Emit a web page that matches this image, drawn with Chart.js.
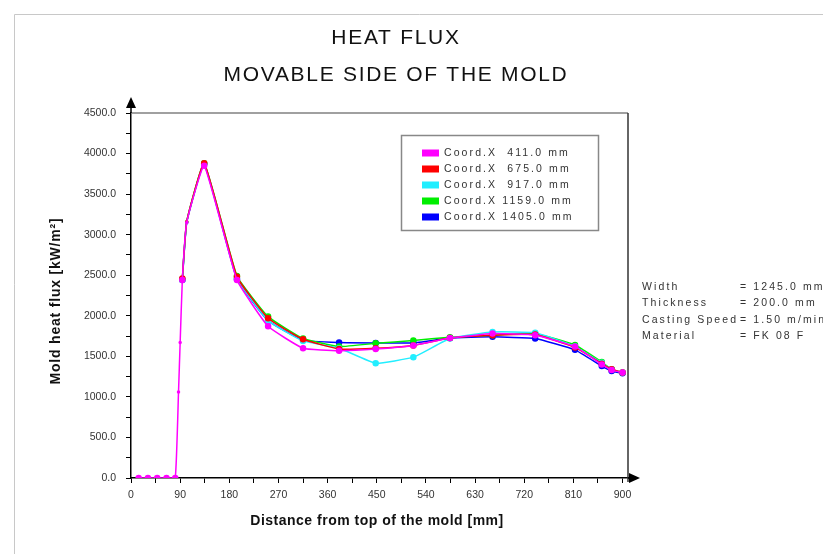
<!DOCTYPE html>
<html>
<head>
<meta charset="utf-8">
<script src="https://cdn.jsdelivr.net/npm/chart.js@4.4.1/dist/chart.umd.min.js"></script>
<style>
  html, body { margin: 0; padding: 0; background: #fff; }
  #wrap { width: 823px; height: 554px; }
</style>
</head>
<body>
<div id="wrap"><canvas id="grafico" width="823" height="554"></canvas></div>
<script>
// Distância do topo do molde [mm]
const distance = [94, 102, 134, 194, 251, 315, 381, 448, 517, 584, 662, 740, 813, 862, 880, 900];
// Trecho inicial (só a curva magenta aparece)
const leadDistance = [14, 31, 48, 65, 81, 87, 90];
const leadFlux = [0, 0, 0, 0, 0, 1060, 1670];

// Fluxo de calor [kW/m²] por coordenada X
const flux411 = [2440, 3150, 3850, 2440, 1870, 1600, 1570, 1590, 1635, 1725, 1780, 1760, 1620, 1400, 1330, 1300];
const flux675 = [2460, 3160, 3880, 2480, 1970, 1710, 1590, 1600, 1635, 1725, 1760, 1770, 1610, 1410, 1340, 1300];
const flux917 = [2440, 3150, 3870, 2460, 1940, 1690, 1600, 1415, 1490, 1720, 1800, 1790, 1620, 1420, 1340, 1300];
const flux1159 = [2450, 3160, 3880, 2490, 1990, 1720, 1620, 1660, 1695, 1735, 1760, 1780, 1640, 1430, 1340, 1300];
const flux1405 = [2440, 3150, 3870, 2450, 1940, 1700, 1670, 1665, 1665, 1725, 1740, 1720, 1580, 1380, 1320, 1290];

const seriesLabels = ['Coord.X  411.0 mm', 'Coord.X  675.0 mm', 'Coord.X  917.0 mm', 'Coord.X 1159.0 mm', 'Coord.X 1405.0 mm'];
const seriesColors = ['#ff00ff', '#ff0000', '#22eeff', '#00ee00', '#0000ff'];

const xTicks = [];
for (let v = 0; v <= 900; v += 45) xTicks.push(v);
const yTicks = [];
for (let v = 0; v <= 4500; v += 250) yTicks.push(v);

const infoNames = ['Width', 'Thickness', 'Casting Speed', 'Material'];
const infoValues = ['= 1245.0 mm', '= 200.0 mm', '= 1.50 m/min', '= FK 08 F'];

function pontos(xs, ys) {
    return xs.map((x, i) => ({ x: x, y: ys[i] }));
}

const magenta = pontos(leadDistance, leadFlux).concat(pontos(distance, flux411));
const todas = [magenta, pontos(distance, flux675), pontos(distance, flux917), pontos(distance, flux1159), pontos(distance, flux1405)];

// marcadores pequenos nos pontos de subida
function raio(d) {
    return d.map(p => (p.y > 0 && p.x < 94) || p.x === 102 ? 1 : 2.5);
}

const datasets = todas.map((d, i) => ({
    label: seriesLabels[i],
    data: d,
    borderColor: seriesColors[i],
    backgroundColor: seriesColors[i],
    borderWidth: 1.5,
    pointRadius: raio(d),
    pointHoverRadius: 2.5,
    tension: 0.12
}));

const FONT = '"Liberation Sans", Arial, sans-serif';

// Desenho dos textos, moldura e setas
const decoracao = {
    id: 'decoracao',
    beforeDraw(chart) {
        const ctx = chart.ctx;
        ctx.save();
        ctx.fillStyle = '#fff';
        ctx.fillRect(0, 0, chart.width, chart.height);
        ctx.restore();
    },
    afterDraw(chart) {
        const ctx = chart.ctx;
        const a = chart.chartArea;
        ctx.save();

        // moldura externa
        ctx.strokeStyle = '#c8c8c8';
        ctx.lineWidth = 1;
        ctx.beginPath();
        ctx.moveTo(14.5, 560);
        ctx.lineTo(14.5, 14.5);
        ctx.lineTo(830, 14.5);
        ctx.stroke();

        // moldura do gráfico
        ctx.strokeStyle = '#808080';
        ctx.lineWidth = 1.5;
        ctx.beginPath();
        ctx.moveTo(a.left, a.top);
        ctx.lineTo(a.right, a.top);
        ctx.stroke();
        ctx.strokeStyle = '#333';
        ctx.beginPath();
        ctx.moveTo(a.right, a.top);
        ctx.lineTo(a.right, a.bottom + 4);
        ctx.stroke();

        // setas dos eixos
        ctx.strokeStyle = '#000';
        ctx.fillStyle = '#000';
        ctx.lineWidth = 1.5;
        ctx.beginPath();
        ctx.moveTo(a.left, a.top);
        ctx.lineTo(a.left, a.top - 8);
        ctx.moveTo(a.right, a.bottom);
        ctx.lineTo(a.right + 4, a.bottom);
        ctx.stroke();
        ctx.beginPath();
        ctx.moveTo(a.left, a.top - 16);
        ctx.lineTo(a.left - 5, a.top - 5);
        ctx.lineTo(a.left + 5, a.top - 5);
        ctx.closePath();
        ctx.fill();
        ctx.beginPath();
        ctx.moveTo(a.right + 12, a.bottom);
        ctx.lineTo(a.right + 1, a.bottom - 5);
        ctx.lineTo(a.right + 1, a.bottom + 5);
        ctx.closePath();
        ctx.fill();

        // títulos
        ctx.fillStyle = '#111';
        ctx.textAlign = 'center';
        ctx.textBaseline = 'middle';
        ctx.font = '21px ' + FONT;
        ctx.letterSpacing = '1.7px';
        ctx.fillText('HEAT FLUX', 396, 38);
        ctx.fillText('MOVABLE SIDE OF THE MOLD', 396, 75);

        // títulos dos eixos
        ctx.font = 'bold 14px ' + FONT;
        ctx.letterSpacing = '0.5px';
        ctx.fillText('Distance from top of the mold [mm]', 377, 521);
        ctx.save();
        ctx.translate(56, 301);
        ctx.rotate(-Math.PI / 2);
        ctx.letterSpacing = '0.8px';
        ctx.fillText('Mold heat flux [kW/m²]', 0, 0);
        ctx.restore();

        // legenda
        ctx.strokeStyle = '#888';
        ctx.lineWidth = 1.5;
        ctx.strokeRect(401.5, 135.5, 197, 95);
        ctx.font = '10.5px ' + FONT;
        ctx.letterSpacing = '2.1px';
        ctx.textAlign = 'left';
        const linhas = [153, 169, 185, 201, 217];
        seriesLabels.forEach((txt, i) => {
            ctx.fillStyle = seriesColors[i];
            ctx.fillRect(422, linhas[i] - 3.5, 17, 7);
            ctx.fillStyle = '#333';
            ctx.fillText(txt, 444, linhas[i]);
        });

        // informações laterais
        const info = [287, 303, 320, 336];
        infoNames.forEach((txt, i) => {
            ctx.fillStyle = '#333';
            ctx.fillText(txt, 642, info[i]);
            ctx.fillText(infoValues[i], 740, info[i]);
        });

        ctx.restore();
    }
};

const ctx = document.getElementById('grafico').getContext('2d');

new Chart(ctx, {
    type: 'line',
    data: { datasets: datasets },
    options: {
        responsive: false,
        animation: false,
        events: [],
        layout: { padding: { left: 0, right: 195, top: 113, bottom: 36 } },
        plugins: {
            legend: { display: false },
            title: { display: false },
            tooltip: { enabled: false }
        },
        scales: {
            x: {
                type: 'linear',
                min: 0,
                max: 910,
                afterBuildTicks: (scale) => { scale.ticks = xTicks.map(v => ({ value: v })); },
                afterFit: (scale) => { scale.height = 40; },
                ticks: {
                    autoSkip: false,
                    maxRotation: 0,
                    minRotation: 0,
                    padding: 6,
                    color: '#333',
                    font: { family: FONT, size: 10.5 },
                    callback: (v) => (v % 90 === 0 ? String(v) : '')
                },
                grid: { drawOnChartArea: false, drawTicks: true, tickLength: 5, color: '#000', lineWidth: 1 },
                border: { display: true, color: '#000', width: 1.5 }
            },
            y: {
                type: 'linear',
                min: 0,
                max: 4500,
                afterBuildTicks: (scale) => { scale.ticks = yTicks.map(v => ({ value: v })); },
                afterFit: (scale) => { scale.width = 131; },
                ticks: {
                    autoSkip: false,
                    padding: 10,
                    color: '#333',
                    font: { family: FONT, size: 10.5 },
                    callback: (v) => (v % 500 === 0 ? v.toFixed(1) : '')
                },
                grid: { drawOnChartArea: false, drawTicks: true, tickLength: 5, color: '#000', lineWidth: 1 },
                border: { display: true, color: '#000', width: 1.5 }
            }
        }
    },
    plugins: [decoracao]
});
</script>
</body>
</html>
